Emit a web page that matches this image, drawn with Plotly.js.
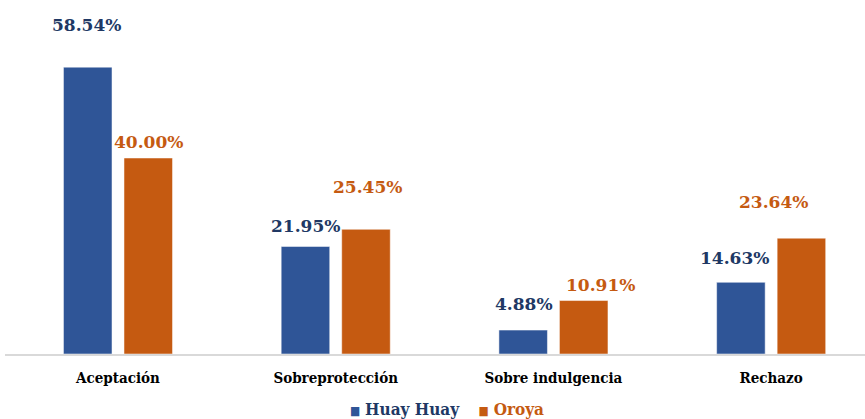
<!DOCTYPE html>
<html><head><meta charset="utf-8">
<script src="https://cdn.plot.ly/plotly-3.0.1.min.js"></script>
<style>html,body{margin:0;padding:0;background:#fff}#chart{width:865px;height:419px}</style>
</head><body><div id="chart"></div>
<script>
const categories = ["Aceptación", "Sobreprotección", "Sobre indulgencia", "Rechazo"];
const seriesNames = ["Huay Huay", "Oroya"];
const huayHuay = [58.54, 21.95, 4.88, 14.63];
const oroya = [40.00, 25.45, 10.91, 23.64];
const huayLabels = ["58.54%", "21.95%", "4.88%", "14.63%"];
const oroyaLabels = ["40.00%", "25.45%", "10.91%", "23.64%"];

// styling
const blue = "#2F5597", orange = "#C55A11";
const blueText = "#203864", orangeText = "#C55A11";
const blueShiftY = [42, 20, 26, 24], orangeShiftY = [16, 42, 16, 36];
const blueShiftX = [-1, 0, 1, -6], orangeShiftX = [0, 2, 17, -28];
const groupOffset = 0.139;

const traces = [
  {type: "bar", x: categories, y: huayHuay, name: seriesNames[0],
   marker: {color: blue, line: {color: "#ffffff", width: 0.5}}, hoverinfo: "none"},
  {type: "bar", x: categories, y: oroya, name: seriesNames[1],
   marker: {color: orange, line: {color: "#ffffff", width: 0.5}}, hoverinfo: "none"}
];

const annotations = [];
categories.forEach((c, i) => {
  annotations.push({x: i - groupOffset, y: huayHuay[i], xref: "x", yref: "y", text: "<b>" + huayLabels[i] + "</b>",
    showarrow: false, yanchor: "middle", yshift: blueShiftY[i], xshift: blueShiftX[i],
    font: {family: "DejaVu Serif", size: 17, color: blueText}});
  annotations.push({x: i + groupOffset, y: oroya[i], xref: "x", yref: "y", text: "<b>" + oroyaLabels[i] + "</b>",
    showarrow: false, yanchor: "middle", yshift: orangeShiftY[i], xshift: orangeShiftX[i],
    font: {family: "DejaVu Serif", size: 17, color: orangeText}});
});
// legend drawn as annotations
const sq = (col) => '<span style="color:' + col + ';font-size:12px">■</span>';
annotations.push({xref: "paper", yref: "paper", x: 0.514, y: -0.16, xanchor: "center", yanchor: "middle", showarrow: false,
  text: sq(blue) + ' <b><span style="color:' + blueText + '">' + seriesNames[0] +
        '</span></b>    ' + sq(orange) + ' <b><span style="color:' + orangeText + '">' + seriesNames[1] + '</span></b>',
  font: {family: "DejaVu Serif Condensed", size: 17}});

const layout = {
  width: 865, height: 419,
  margin: {l: 5, r: 0, t: 11, b: 65},
  paper_bgcolor: "#ffffff", plot_bgcolor: "#ffffff",
  barmode: "group", bargap: 0.444, bargroupgap: 0.198,
  showlegend: false,
  xaxis: {range: [-0.519, 3.431], showline: true, linecolor: "#D9D9D9", linewidth: 2,
    automargin: false,
    ticks: "outside", ticklen: 9, tickcolor: "rgba(0,0,0,0)",
    tickfont: {family: "DejaVu Serif Condensed", size: 15, color: "#000000", weight: "bold"}, fixedrange: true},
  yaxis: {range: [0, 70], visible: false, showgrid: false, zeroline: false, fixedrange: true, automargin: false},
  annotations: annotations
};

Plotly.newPlot("chart", traces, layout, {displayModeBar: false, staticPlot: true});
</script></body></html>
